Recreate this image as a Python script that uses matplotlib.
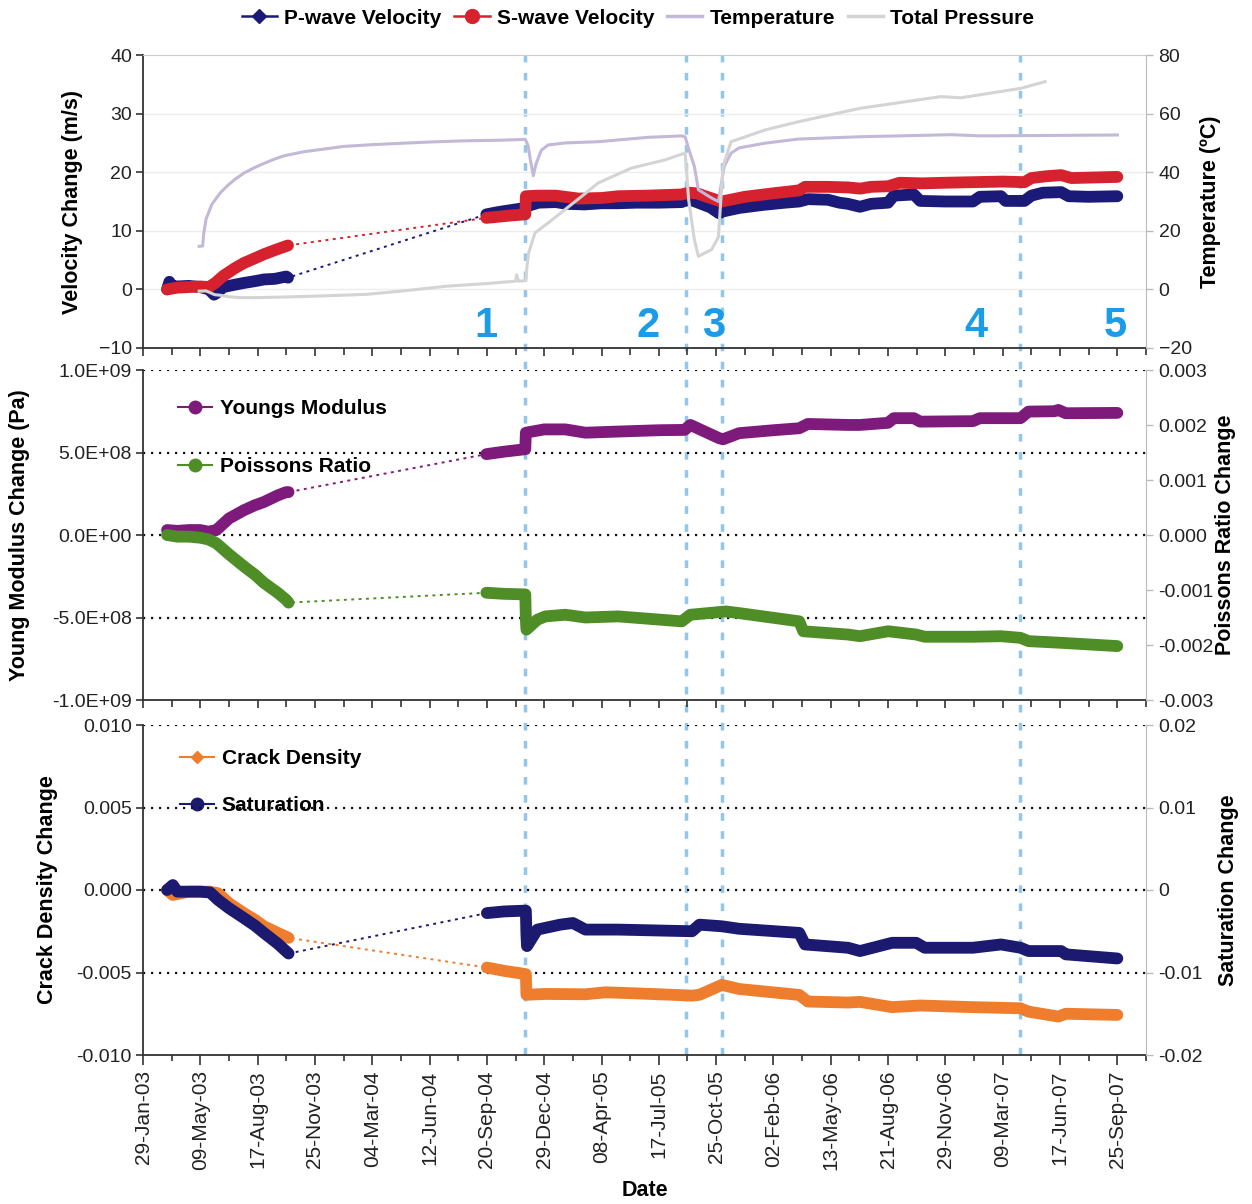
import numpy as np
import matplotlib
matplotlib.use("Agg")
import matplotlib.pyplot as plt
import matplotlib.dates as mdates
from matplotlib.lines import Line2D
from matplotlib.transforms import blended_transform_factory

plt.rcParams['font.family'] = ['Liberation Sans', 'DejaVu Sans']

# ---- data (days counted from 29-Jan-2003) ----
START = np.datetime64('2003-01-29')
X_END_DAYS = 1750

p_days = [42, 46, 50, 60, 80, 100, 115, 124, 130, 140, 160, 176, 195, 211, 230, 250, 253,
          599, 620, 640, 660, 667, 690, 720, 740, 770, 800, 829, 860, 900, 940, 952, 966,
          990, 1005, 1012, 1040, 1080, 1120, 1145, 1160, 1195, 1215, 1230, 1251, 1270, 1300,
          1310, 1345, 1356, 1400, 1448, 1460, 1497, 1505, 1538, 1550, 1570, 1602, 1615, 1650, 1700]
p_vel = [0.0, 1.3, 0.6, 0.5, 0.6, 0.4, 0.0, -0.9, -0.5, 0.4, 0.8, 1.1, 1.4, 1.7, 1.8, 2.2, 2.0,
         12.8, 13.2, 13.5, 13.8, 14.1, 14.8, 14.9, 14.6, 14.5, 14.7, 14.7, 14.8, 14.8, 14.9, 15.4, 14.9,
         14.0, 13.0, 13.3, 13.9, 14.4, 14.8, 15.0, 15.4, 15.3, 14.8, 14.6, 14.1, 14.6, 14.8,
         16.0, 16.2, 15.1, 15.0, 15.0, 15.8, 15.9, 15.1, 15.1, 16.0, 16.5, 16.6, 15.9, 15.8, 15.9]

s_days = [42, 60, 80, 100, 115, 126, 140, 160, 176, 195, 211, 230, 250, 253,
          599, 620, 640, 667, 668, 690, 720, 760, 800, 829, 880, 940, 952, 966, 990, 1009,
          1020, 1050, 1100, 1145, 1155, 1195, 1230, 1251, 1270, 1300, 1320, 1360, 1400, 1448,
          1500, 1538, 1550, 1575, 1602, 1620, 1660, 1700]
s_vel = [0.0, 0.3, 0.4, 0.5, 0.4, 1.1, 2.3, 3.6, 4.5, 5.3, 6.0, 6.7, 7.4, 7.5,
         12.2, 12.4, 12.6, 12.8, 15.9, 16.0, 16.0, 15.5, 15.6, 15.9, 16.0, 16.2, 16.5, 16.4, 15.6, 15.0,
         15.2, 15.8, 16.4, 16.9, 17.5, 17.5, 17.4, 17.2, 17.5, 17.6, 18.2, 18.1, 18.2, 18.3,
         18.4, 18.3, 19.0, 19.3, 19.5, 19.0, 19.1, 19.2]

temp_days = [98, 104, 106, 110, 120, 135, 148, 160, 176, 195, 211, 230, 246, 281, 320, 350, 400,
             454, 500, 558, 620, 667, 672, 676, 681, 686, 695, 707, 737, 794, 881, 940, 946, 952,
             962, 969, 992, 1004, 1014, 1026, 1040, 1085, 1143, 1250, 1320, 1410, 1460, 1550, 1700]
temp_c = [14.7, 14.8, 19, 24, 29, 33, 35.5, 37.5, 39.7, 41.6, 43, 44.5, 45.6, 47, 48, 48.8, 49.4,
          49.9, 50.3, 50.7, 50.9, 51.2, 49, 44, 38.8, 43, 47.5, 49.3, 50.0, 50.4, 51.9, 52.4, 52.0, 48,
          42, 34, 31.2, 30.0, 42, 46.5, 48.3, 49.9, 51.3, 52.1, 52.4, 52.8, 52.4, 52.5, 52.7]

pres_days = [98, 110, 125, 135, 150, 170, 200, 246, 300, 389, 450, 530, 600, 650, 652, 655, 668,
             670, 673, 684, 707, 736, 765, 794, 852, 911, 942, 946, 952, 962, 969, 992, 1000, 1004,
             1008, 1012, 1026, 1085, 1143, 1251, 1392, 1427, 1531, 1574]
pres_val = [-0.6, -0.5, -1.8, -2.0, -2.5, -2.8, -2.8, -2.6, -2.3, -1.7, -0.6, 1.1, 2.0, 2.8, 5.0, 2.8, 3.0,
            8.0, 12.6, 19.3, 22.7, 27.2, 31.7, 36.3, 41.4, 44.2, 46.3, 46.5, 30.6, 17.0, 11.3, 13.6, 16.4, 18.0,
            30.0, 42.0, 50.4, 54.4, 57.2, 61.8, 65.8, 65.4, 68.6, 70.9]

ym_days = [42, 60, 80, 100, 114, 128, 150, 176, 195, 211, 235, 250, 254,
           599, 630, 667, 668, 700, 737, 772, 829, 900, 945, 955, 1005, 1012, 1040, 1100,
           1145, 1160, 1230, 1251, 1300, 1310, 1345, 1356, 1448, 1460, 1531, 1545, 1590, 1597,
           1610, 1700]
ym_val = [0.3e8, 0.25e8, 0.3e8, 0.3e8, 0.2e8, 0.3e8, 1.0e8, 1.5e8, 1.8e8, 2.0e8, 2.4e8, 2.6e8, 2.6e8,
          4.9e8, 5.05e8, 5.2e8, 6.2e8, 6.4e8, 6.4e8, 6.2e8, 6.27e8, 6.35e8, 6.37e8, 6.67e8, 5.87e8,
          5.8e8, 6.17e8, 6.35e8, 6.47e8, 6.73e8, 6.67e8, 6.67e8, 6.8e8, 7.08e8, 7.08e8, 6.87e8, 6.9e8,
          7.08e8, 7.08e8, 7.48e8, 7.5e8, 7.58e8, 7.38e8, 7.4e8]

pr_days = [42, 60, 80, 100, 114, 128, 150, 176, 195, 211, 235, 250, 254,
           599, 630, 667, 668, 669, 688, 702, 737, 772, 829, 940, 955, 1017, 1040, 1145, 1152,
           1230, 1251, 1300, 1349, 1364, 1448, 1497, 1531, 1545, 1602, 1700]
pr_val = [0.0, -0.03e-3, -0.03e-3, -0.05e-3, -0.08e-3, -0.15e-3, -0.35e-3, -0.57e-3, -0.72e-3,
          -0.87e-3, -1.05e-3, -1.18e-3, -1.23e-3,
          -1.05e-3, -1.07e-3, -1.08e-3, -1.54e-3, -1.72e-3, -1.54e-3, -1.48e-3, -1.45e-3, -1.5e-3,
          -1.48e-3, -1.57e-3, -1.45e-3, -1.39e-3, -1.42e-3, -1.57e-3, -1.75e-3, -1.81e-3, -1.84e-3,
          -1.75e-3, -1.81e-3, -1.85e-3, -1.85e-3, -1.84e-3, -1.87e-3, -1.93e-3, -1.96e-3, -2.02e-3]

cd_days = [42, 52, 80, 117, 131, 150, 176, 195, 211, 235, 254,
           600, 630, 668, 669, 702, 772, 807, 857, 958, 971, 1010, 1040, 1145, 1160, 1230,
           1251, 1307, 1356, 1448, 1531, 1545, 1597, 1610, 1700]
cd_val = [0.0, -0.3e-3, -0.1e-3, -0.1e-3, -0.2e-3, -0.8e-3, -1.4e-3, -1.8e-3, -2.2e-3, -2.6e-3, -2.9e-3,
          -4.7e-3, -4.9e-3, -5.1e-3, -6.35e-3, -6.3e-3, -6.32e-3, -6.2e-3, -6.26e-3, -6.4e-3, -6.35e-3,
          -5.75e-3, -6.0e-3, -6.36e-3, -6.76e-3, -6.82e-3, -6.78e-3, -7.1e-3, -7.0e-3, -7.1e-3,
          -7.17e-3, -7.37e-3, -7.67e-3, -7.5e-3, -7.57e-3]

sat_days = [42, 52, 60, 100, 117, 131, 150, 176, 195, 211, 235, 254,
            600, 630, 668, 669, 670, 688, 728, 750, 772, 829, 958, 971, 1010, 1040, 1145, 1155,
            1230, 1251, 1307, 1349, 1364, 1448, 1497, 1531, 1545, 1602, 1610, 1700]
sat_val = [0.0, 0.6e-3, -0.2e-3, -0.2e-3, -0.3e-3, -1.2e-3, -2.2e-3, -3.4e-3, -4.3e-3, -5.2e-3,
           -6.5e-3, -7.7e-3,
           -2.8e-3, -2.6e-3, -2.5e-3, -5.4e-3, -6.8e-3, -4.8e-3, -4.2e-3, -4.0e-3, -4.8e-3, -4.8e-3,
           -5.0e-3, -4.2e-3, -4.4e-3, -4.7e-3, -5.2e-3, -6.6e-3, -7.0e-3, -7.4e-3, -6.4e-3, -6.4e-3,
           -7.0e-3, -7.0e-3, -6.6e-3, -7.0e-3, -7.4e-3, -7.4e-3, -7.8e-3, -8.3e-3]

event_days = [667, 947, 1010, 1531]
stage_days = [599, 882, 995, 1453, 1697]
stage_labels = ['1', '2', '3', '4', '5']

tick_days = list(range(0, 1701, 100))
minor_days = list(range(0, 1751, 50))

# colours
C_P = '#1C1A78'
C_S = '#D6222E'
C_T = '#C4B8D8'
C_PR = '#D4D4D4'
C_YM = '#7F1A7D'
C_PO = '#4F8E27'
C_CD = '#EE7D2E'
C_SA = '#1C1A70'
C_EV = '#93C6EA'
C_NUM = '#1C9BE8'

LABEL_FS = 15.5
TICK_FS = 14


def to_dates(days):
    return START + np.asarray(days).astype('timedelta64[D]')


def draw_series(ax, days, vals, color):
    d = np.asarray(days)
    v = np.asarray(vals, dtype=float)
    x = to_dates(d)
    ax.plot(x, v, color=color, lw=1.4, ls=(0, (1.5, 2.3)), zorder=3)
    # the only real data gap is the long one in 2004
    split = np.where(np.diff(d) > 300)[0] + 1
    for xs, vs in zip(np.split(x, split), np.split(v, split)):
        ax.plot(xs, vs, color=color, lw=8.5, solid_capstyle='round',
                solid_joinstyle='round', zorder=4)


def draw_line(ax, days, vals, color):
    ax.plot(to_dates(days), vals, color=color, lw=2.2, zorder=3)


fig = plt.figure(figsize=(12.52, 12.04), dpi=100)
L = 143 / 1252
W = 1003 / 1252
ax1 = fig.add_axes([L, 1 - 348 / 1204, W, 293 / 1204])
ax2 = fig.add_axes([L, 1 - 700 / 1204, W, 330 / 1204])
ax3 = fig.add_axes([L, 1 - 1055 / 1204, W, 330 / 1204])
ax1r = ax1.twinx()
ax2r = ax2.twinx()
ax3r = ax3.twinx()

xlim = (mdates.date2num(START), mdates.date2num(START + np.timedelta64(X_END_DAYS, 'D')))

for ax, axr in [(ax1, ax1r), (ax2, ax2r), (ax3, ax3r)]:
    ax.patch.set_visible(False)
    ax.set_xlim(xlim)
    ax.spines['left'].set_color('#333333')
    ax.spines['bottom'].set_color('#333333')
    ax.spines['left'].set_linewidth(1.3)
    ax.spines['bottom'].set_linewidth(1.3)
    ax.spines['right'].set_visible(False)
    for s in ['top', 'left', 'bottom']:
        axr.spines[s].set_visible(False)
    axr.spines['right'].set_color('#BBBBBB')
    ax.tick_params(axis='y', direction='out', length=5, width=1.2, color='#333333',
                   labelsize=TICK_FS, labelcolor='#222222', pad=3)
    axr.tick_params(axis='y', direction='out', length=5, width=1, color='#BBBBBB',
                    labelsize=TICK_FS, labelcolor='#222222', pad=4)
    ax.xaxis.set_minor_locator(matplotlib.ticker.FixedLocator(mdates.date2num(to_dates(minor_days))))
    ax.xaxis.set_major_locator(matplotlib.ticker.FixedLocator(mdates.date2num(to_dates(tick_days))))
    ax.tick_params(axis='x', which='major', direction='out', length=6, width=1.2, color='#333333')
    ax.tick_params(axis='x', which='minor', direction='out', length=5, width=1.2, color='#333333')

# ---- top panel ----
ax1.spines['top'].set_color('#CCCCCC')
ax1.set_ylim(-10, 40)
ax1.set_yticks(range(-10, 41, 10))
ax1r.set_ylim(-20, 80)
ax1r.set_yticks(range(-20, 81, 20))
for y in range(0, 31, 10):
    ax1.axhline(y, color='#EDEDED', lw=1, zorder=0.5)
ax1.tick_params(axis='x', labelbottom=False)
draw_series(ax1, p_days, p_vel, C_P)
draw_series(ax1, s_days, s_vel, C_S)
draw_line(ax1r, temp_days, temp_c, C_T)
draw_line(ax1r, pres_days, pres_val, C_PR)
for d, lab in zip(stage_days, stage_labels):
    ax1.text(to_dates([d])[0], -6.3, lab, color=C_NUM, fontsize=30, fontweight='bold',
             ha='center', va='center')
ax1.set_ylabel('Velocity Change (m/s)', fontsize=LABEL_FS, fontweight='bold')
ax1.yaxis.set_label_coords(-0.060, 0.5)
ax1r.set_ylabel('Temperature (ºC)', fontsize=LABEL_FS, fontweight='bold')
ax1r.yaxis.set_label_coords(1.054, 0.5)

# ---- middle panel ----
ax2.spines['top'].set_visible(False)
ax2.set_ylim(-1e9, 1e9)
ym_ticks = [-1e9, -5e8, 0, 5e8, 1e9]
ax2.set_yticks(ym_ticks, ['%.1E' % t for t in ym_ticks])
ax2r.set_ylim(-0.003, 0.003)
pr_ticks = [-0.003, -0.002, -0.001, 0.0, 0.001, 0.002, 0.003]
ax2r.set_yticks(pr_ticks, ['%.3f' % t for t in pr_ticks])
for y in [-5e8, 0, 5e8, 1e9]:
    ax2.axhline(y, color='#111111', lw=1.6, ls=(0, (1, 2.6)), zorder=1)
ax2.tick_params(axis='x', labelbottom=False)
draw_series(ax2, ym_days, ym_val, C_YM)
draw_series(ax2r, pr_days, pr_val, C_PO)
ax2.set_ylabel('Young Modulus Change (Pa)', fontsize=LABEL_FS, fontweight='bold')
ax2.yaxis.set_label_coords(-0.113, 0.5)
ax2r.set_ylabel('Poissons Ratio Change', fontsize=LABEL_FS, fontweight='bold')
ax2r.yaxis.set_label_coords(1.069, 0.5)
h2 = [Line2D([], [], color=C_YM, lw=1.5, marker='o', ms=9),
      Line2D([], [], color=C_PO, lw=1.5, marker='o', ms=9)]
leg2 = ax2.legend(h2, ['Youngs Modulus', 'Poissons Ratio'], loc='center left',
                  bbox_to_anchor=(0.035, 0.795), frameon=False, borderpad=0, borderaxespad=0,
                  prop=dict(weight='bold', size=15), labelspacing=1.9, handlelength=1.65,
                  handletextpad=0.35)
leg2.set_zorder(0.5)

# ---- bottom panel ----
ax3.spines['top'].set_visible(False)
ax3.set_ylim(-0.01, 0.01)
cd_ticks = [-0.01, -0.005, 0.0, 0.005, 0.01]
ax3.set_yticks(cd_ticks, ['%.3f' % t for t in cd_ticks])
ax3r.set_ylim(-0.02, 0.02)
ax3r.set_yticks([-0.02, -0.01, 0, 0.01, 0.02], ['-0.02', '-0.01', '0', '0.01', '0.02'])
for y in [-0.005, 0, 0.005, 0.01]:
    ax3.axhline(y, color='#111111', lw=1.6, ls=(0, (1, 2.6)), zorder=1)
ax3.xaxis.set_major_formatter(mdates.DateFormatter('%d-%b-%y'))
ax3.tick_params(axis='x', which='major', labelsize=15, labelrotation=90, labelcolor='#222222',
                length=7, pad=4)
ax3.tick_params(axis='x', which='minor', length=4)
draw_series(ax3, cd_days, cd_val, C_CD)
draw_series(ax3r, sat_days, sat_val, C_SA)
ax3.set_ylabel('Crack Density Change', fontsize=LABEL_FS, fontweight='bold')
ax3.yaxis.set_label_coords(-0.085, 0.5)
ax3r.set_ylabel('Saturation Change', fontsize=LABEL_FS, fontweight='bold')
ax3r.yaxis.set_label_coords(1.072, 0.5)
h3 = [Line2D([], [], color=C_CD, lw=1.5, marker='D', ms=6),
      Line2D([], [], color=C_SA, lw=1.5, marker='o', ms=9)]
leg3 = ax3.legend(h3, ['Crack Density', 'Saturation'], loc='center left',
                  bbox_to_anchor=(0.037, 0.826), frameon=False, borderpad=0, borderaxespad=0,
                  prop=dict(weight='bold', size=15), labelspacing=1.35, handlelength=1.65,
                  handletextpad=0.35)
leg3.set_zorder(0.5)

fig.text(645 / 1252, 1 - 1190 / 1204, 'Date', fontsize=LABEL_FS, fontweight='bold',
         ha='center', va='center')

# event lines running through all three panels
trans = blended_transform_factory(ax1.transData, fig.transFigure)
for d in event_days:
    xd = mdates.date2num(to_dates([d])[0])
    fig.add_artist(Line2D([xd, xd], [1 - 1055 / 1204, 1 - 55 / 1204], transform=trans,
                          color=C_EV, lw=2.5, ls=(0, (2.2, 3.0)), zorder=-1))

# top legend
h1 = [Line2D([], [], color=C_P, lw=1.8, marker='D', ms=7),
      Line2D([], [], color=C_S, lw=1.8, marker='o', ms=10),
      Line2D([], [], color=C_T, lw=2.5),
      Line2D([], [], color=C_PR, lw=2.5)]
fig.legend(h1, ['P-wave Velocity', 'S-wave Velocity', 'Temperature', 'Total Pressure'],
           loc='center', bbox_to_anchor=(638 / 1252, 1 - 18 / 1204), ncol=4, frameon=False,
           prop=dict(weight='bold', size=15), handlelength=1.7, handletextpad=0.35,
           columnspacing=0.6)

fig.savefig('out.png', dpi=100)
